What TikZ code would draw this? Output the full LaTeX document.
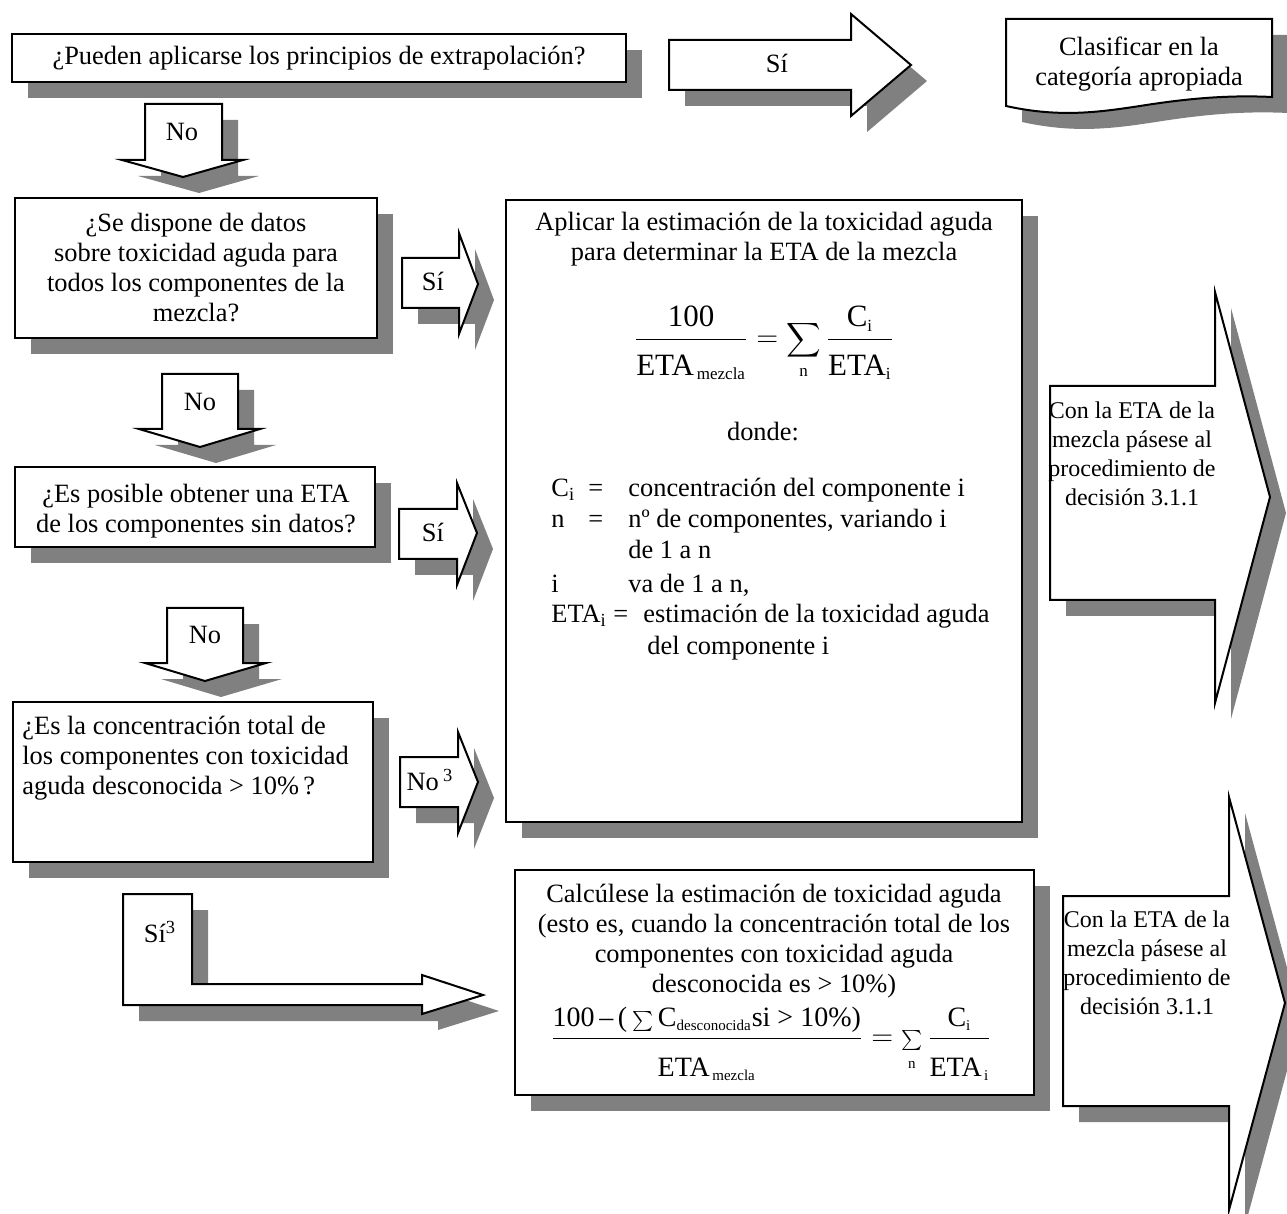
\documentclass[tikz,border=0pt]{standalone}
\usepackage{amsmath}
\usepackage{fontspec}
\setmainfont{Liberation Serif}
\definecolor{shadowgray}{HTML}{808080}
\newcommand\ShadowShape[1]{\path[shd,shift={(16,16)}] #1; \path[shp] #1;}
\newcommand\sm{\fontsize{7.5}{8}\selectfont}
\newcommand\smb{\fontsize{8.5}{9}\selectfont}
\newcommand\bigsum{\mathop{\mbox{\fontsize{12}{12}\selectfont$\displaystyle\sum$}}}
\newcommand\smallsum{\mathop{\mbox{\fontsize{10}{10}\selectfont$\textstyle\sum$}}}
\tikzset{
  shp/.style={fill=white, draw=black, line width=1pt, line join=miter},
  shd/.style={fill=shadowgray, draw=none},
  txt/.style={font=\fontsize{13.2}{15}\selectfont, inner sep=0pt, align=center},
  atxt/.style={font=\fontsize{12}{14.5}\selectfont, inner sep=0pt, align=center},
  dtxt/.style={font=\fontsize{13.2}{15}\selectfont, inner sep=0pt, anchor=base west},
  ftxt/.style={font=\fontsize{15.5}{18}\selectfont, inner sep=0pt},
  gtxt/.style={font=\fontsize{14}{16}\selectfont, inner sep=0pt},
}
\begin{document}
\begin{tikzpicture}[x=0.5pt,y=-0.5pt]
\useasboundingbox (0,0) rectangle (1287,1214);
\fill[white] (0,0) rectangle (1287,1214);

% Box 1
\ShadowShape{(12,34) rectangle (626,82)}
% Si arrow top
\ShadowShape{(669,40) -- (851,40) -- (851,14) -- (911,65) -- (851,116) -- (851,90) -- (669,90) -- cycle}
% Classify (document shape)
\ShadowShape{(1006,19) -- (1272,19) -- (1272,97) .. controls (1230,95) and (1190,98) .. (1140,106) .. controls (1100,112) and (1060,118) .. (1006,106) -- cycle}
% No arrow 1
\ShadowShape{(145,104) -- (222,104) -- (222,160) -- (243,160) -- (183,177) -- (122,160) -- (145,160) -- cycle}
% Box 2
\ShadowShape{(15,198) rectangle (377,338)}
% Si arrow 2
\ShadowShape{(402,258) -- (459,258) -- (459,233) -- (478,284) -- (459,334) -- (459,308) -- (402,308) -- cycle}
% Big box
\ShadowShape{(506,200) rectangle (1022,822)}
% No arrow 2
\ShadowShape{(162,374) -- (238,374) -- (238,429) -- (260,429) -- (200,447) -- (139,429) -- (162,429) -- cycle}
% Box 3
\ShadowShape{(15,467) rectangle (375,547)}
% Si arrow 3
\ShadowShape{(399,509) -- (457,509) -- (457,483) -- (477,533) -- (457,585) -- (457,559) -- (399,559) -- cycle}
% No arrow 3
\ShadowShape{(167,608) -- (243,608) -- (243,663) -- (266,663) -- (205,681) -- (145,663) -- (167,663) -- cycle}
% Box 4
\ShadowShape{(13,702) rectangle (373,862)}
% No3 arrow
\ShadowShape{(400,757) -- (458,757) -- (458,732) -- (478,782) -- (458,833) -- (458,807) -- (400,807) -- cycle}
% Si3 bent arrow
\ShadowShape{(123,894) -- (192,894) -- (192,984) -- (422,984) -- (422,975) -- (483,995) -- (422,1014) -- (422,1005) -- (123,1005) -- cycle}
% Calc box
\ShadowShape{(515,870) rectangle (1034,1095)}
% Right arrow upper
\ShadowShape{(1050,386) -- (1215,386) -- (1215,292) -- (1270,497) -- (1215,703) -- (1215,600) -- (1050,600) -- cycle}
% Right arrow lower
\ShadowShape{(1063,896) -- (1229,896) -- (1229,797) -- (1285,1003) -- (1229,1210) -- (1229,1106) -- (1063,1106) -- cycle}

% Texts
\node[txt] (q1) at (319,58) {¿Pueden aplicarse los principios de extrapolación?};
\node[txt] (si1) at (777,63) {Sí};
\node[txt] (cls) at (1139,64) {Clasificar en la\\categoría apropiada};
\node[txt] (no1) at (182,132) {No};
\node[txt] (q2) at (196,268) {¿Se dispone de datos\\sobre toxicidad aguda para\\todos los componentes de la\\mezcla?};
\node[txt] (si2) at (433,281) {Sí};
\node[txt] (apl) at (764,239) {Aplicar la estimación de la toxicidad aguda\\para determinar la ETA de la mezcla};
\node[ftxt] (f1) at (764,343) {$\displaystyle\frac{\mbox{100}}{\rule{0pt}{16pt}\mbox{ETA}_{\mbox{\smb\,mezcla}}}=\bigsum\limits_{\mbox{\smb n}}\frac{\mbox{C}_{\mbox{\smb i}}}{\rule{0pt}{16pt}\mbox{ETA}_{\mbox{\smb i}}}$};
\node[txt] (donde) at (763,432) {donde:};
\node[dtxt] (d1a) at (551,497) {C\textsubscript{i}};
\node[dtxt] (d1b) at (588,497) {=};
\node[dtxt] (d1c) at (628,497) {concentración del componente i};
\node[dtxt] (d2a) at (551,528) {n};
\node[dtxt] (d2b) at (588,528) {=};
\node[dtxt] (d2c) at (628,528) {nº de componentes, variando i};
\node[dtxt] (d3c) at (628,559) {de 1 a n};
\node[dtxt] (d4a) at (551,593) {i};
\node[dtxt] (d4c) at (628,593) {va de 1 a n,};
\node[dtxt] (d5a) at (551,623) {ETA\textsubscript{i} =};
\node[dtxt] (d5c) at (643,623) {estimación de la toxicidad aguda};
\node[dtxt] (d6c) at (647,654) {del componente i};
\node[txt] (no2) at (200,402) {No};
\node[txt] (q3) at (196,511) {¿Es posible obtener una ETA\\de los componentes sin datos?};
\node[txt] (si3) at (433,532) {Sí};
\node[txt] (no3) at (205,635) {No};
\node[txt, align=left, anchor=west] (q4) at (22,758) {¿Es la concentración total de\\los componentes con toxicidad\\aguda desconocida > 10\%\,?};
\node[txt] (no4) at (430,780) {No\,\textsuperscript{3}};
\node[txt] (si4) at (160,932) {Sí\textsuperscript{3}};
\node[txt] (calc) at (774,941) {Calcúlese la estimación de toxicidad aguda\\(esto es, cuando la concentración total de los\\componentes con toxicidad aguda\\desconocida es > 10\%)};
\node[gtxt] (f2) at (771,1044) {$\displaystyle\frac{\mbox{100\,–\,(}\smallsum\mbox{C}_{\mbox{\sm desconocida}}\mbox{si > 10\%)}}{\rule{0pt}{17pt}\mbox{ETA}_{\mbox{\sm\,mezcla}}}=\smallsum\limits_{\mbox{\sm n}}\frac{\mbox{C}_{\mbox{\sm i}}}{\rule{0pt}{17pt}\mbox{ETA}_{\mbox{\sm\,i}}}$};
\node[atxt] (r1) at (1132,454) {Con la ETA de la\\mezcla pásese al\\procedimiento de\\decisión 3.1.1};
\node[atxt] (r2) at (1147,963) {Con la ETA de la\\mezcla pásese al\\procedimiento de\\decisión 3.1.1};
\end{tikzpicture}
\end{document}
